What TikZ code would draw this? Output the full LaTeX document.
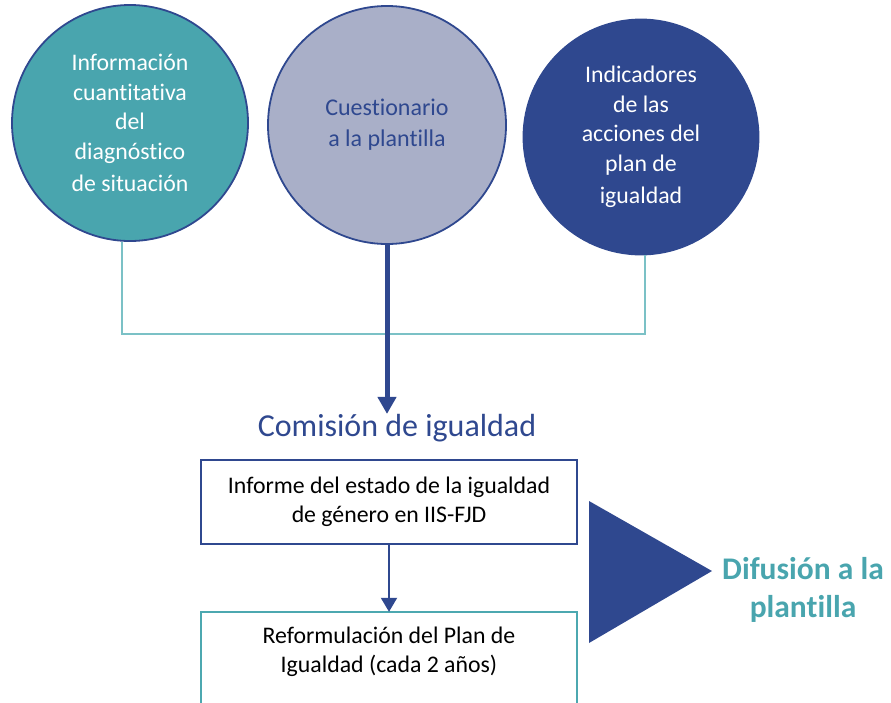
\documentclass[tikz,border=0pt]{standalone}
\usepackage{fontspec}
\setmainfont{Carlito}[Ligatures={NoCommon}]
\usetikzlibrary{arrows.meta}
\definecolor{tealc}{RGB}{73,165,174}
\definecolor{lpurp}{RGB}{169,175,200}
\definecolor{dblue}{RGB}{47,72,143}
\definecolor{tline}{RGB}{123,193,198}
\definecolor{tbox}{RGB}{76,168,176}
\begin{document}
\begin{tikzpicture}[x=1pt,y=-1pt,
  bubble/.style={circle,inner sep=0pt,minimum size=236pt,line width=1.8pt,draw=dblue,align=center},
  frame/.style={rectangle,inner sep=0pt,minimum width=376pt,align=center},
  ctext/.style={font=\fontsize{23.8}{29.5}\selectfont},
  btext/.style={font=\fontsize{23.8}{29.5}\selectfont}]
\useasboundingbox (0,0) rectangle (891,702);
\clip (0,0) rectangle (891,702);
% circles
\node[bubble,fill=tealc,text=white,ctext] (lc) at (130,123) {Información\\cuantitativa\\del\\diagnóstico\\[3pt]de situación};
\node[bubble,fill=lpurp,text=dblue,minimum size=238pt,font=\fontsize{24}{31}\selectfont] (mc) at (387,125) {Cuestionario\\a la plantilla};
\node[bubble,fill=dblue,text=white,minimum size=235pt,ctext] (rc) at (641,137) {Indicadores\\de las\\acciones del\\plan de\\[3pt]igualdad};
% connectors
\coordinate (j1) at (122,334);
\coordinate (j2) at (645,334);
\draw[tline,line width=1.5pt] (lc.south -| j1) -- (j1) -- (j2) -- (rc.south -| j2);
\node[text=dblue,font=\fontsize{32}{38}\selectfont,inner sep=0pt] (com) at (397,428) {Comisión de igualdad};
\draw[dblue,line width=5pt,-{Triangle[width=18pt,length=17pt]}] (mc.south) -- (mc.south |- com.north);
% boxes
\node[frame,draw=dblue,line width=1.8pt,minimum height=84pt,btext] (b1) at (389,502) {Informe del estado de la igualdad\\de género en IIS-FJD};
\node[frame,minimum height=80pt,btext] (b2) at (389,652) {Reformulación del Plan de\\Igualdad (cada 2 años)};
\draw[tbox,line width=1.8pt] (b2.north west) ++(0,100) -- (b2.north west) -- (b2.north east) -- ++(0,100);
\draw[dblue,line width=2pt,-{Triangle[width=16pt,length=14pt]}] (b1.south) -- (b2.north);
% triangle
\fill[dblue] (589,501) -- (712,571) -- (589,643) -- cycle;
\node[text=tealc,font=\bfseries\fontsize{31.5}{38}\selectfont,align=center] (dif) at (803,590) {Difusión a la\\plantilla};
\end{tikzpicture}
\end{document}
